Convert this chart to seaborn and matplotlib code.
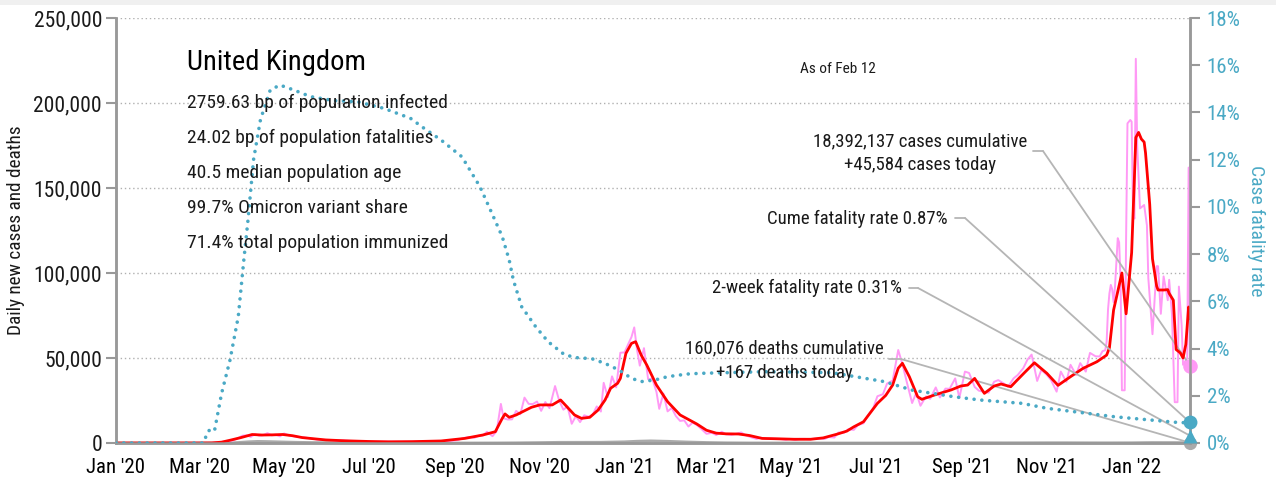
import matplotlib
matplotlib.use("Agg")
import matplotlib.pyplot as plt
import matplotlib.ticker as mticker
import matplotlib.dates as mdates
from matplotlib import font_manager as fm
from matplotlib.patches import Rectangle
import pandas as pd
import seaborn as sns

# ---------------- data ----------------
daily_dates = [
    "2020-01-01", "2020-02-29", "2020-03-05", "2020-03-10", "2020-03-14", "2020-03-18", "2020-03-21",
    "2020-03-25", "2020-03-28", "2020-04-01", "2020-04-04", "2020-04-07", "2020-04-10", "2020-04-13",
    "2020-04-16", "2020-04-19", "2020-04-22", "2020-04-25", "2020-04-28", "2020-05-01", "2020-05-05",
    "2020-05-09", "2020-05-13", "2020-05-17", "2020-05-21", "2020-05-25", "2020-05-29", "2020-06-03",
    "2020-06-08", "2020-06-13", "2020-06-18", "2020-06-23", "2020-06-28", "2020-07-04", "2020-07-11",
    "2020-07-18", "2020-07-25", "2020-08-01", "2020-08-08", "2020-08-15", "2020-08-22", "2020-08-29",
    "2020-09-03", "2020-09-07", "2020-09-11", "2020-09-15", "2020-09-18", "2020-09-21", "2020-09-24",
    "2020-09-28", "2020-10-01", "2020-10-04", "2020-10-06", "2020-10-09", "2020-10-12", "2020-10-15",
    "2020-10-18", "2020-10-21", "2020-10-24", "2020-10-27", "2020-10-30", "2020-11-02", "2020-11-05",
    "2020-11-08", "2020-11-12", "2020-11-15", "2020-11-18", "2020-11-21", "2020-11-24", "2020-11-27",
    "2020-11-30", "2020-12-03", "2020-12-06", "2020-12-09", "2020-12-12", "2020-12-15", "2020-12-17",
    "2020-12-20", "2020-12-23", "2020-12-26", "2020-12-29", "2021-01-01", "2021-01-04", "2021-01-06",
    "2021-01-08", "2021-01-10", "2021-01-12", "2021-01-15", "2021-01-18", "2021-01-21", "2021-01-24",
    "2021-01-26", "2021-01-29", "2021-02-01", "2021-02-04", "2021-02-07", "2021-02-10", "2021-02-13",
    "2021-02-16", "2021-02-19", "2021-02-22", "2021-02-25", "2021-03-01", "2021-03-05", "2021-03-08",
    "2021-03-12", "2021-03-15", "2021-03-19", "2021-03-22", "2021-03-26", "2021-03-29", "2021-04-02",
    "2021-04-06", "2021-04-09", "2021-04-13", "2021-04-16", "2021-04-20", "2021-04-23", "2021-04-27",
    "2021-04-30", "2021-05-04", "2021-05-07", "2021-05-11", "2021-05-14", "2021-05-18", "2021-05-21",
    "2021-05-25", "2021-05-28", "2021-06-01", "2021-06-04", "2021-06-08", "2021-06-11", "2021-06-15",
    "2021-06-18", "2021-06-22", "2021-06-25", "2021-06-29", "2021-07-02", "2021-07-06", "2021-07-09",
    "2021-07-13", "2021-07-17", "2021-07-20", "2021-07-23", "2021-07-27", "2021-07-30", "2021-08-02",
    "2021-08-06", "2021-08-09", "2021-08-13", "2021-08-16", "2021-08-20", "2021-08-23", "2021-08-27",
    "2021-08-30", "2021-09-03", "2021-09-06", "2021-09-10", "2021-09-13", "2021-09-17", "2021-09-20",
    "2021-09-24", "2021-09-27", "2021-10-01", "2021-10-04", "2021-10-08", "2021-10-11", "2021-10-15",
    "2021-10-18", "2021-10-21", "2021-10-25", "2021-10-28", "2021-11-01", "2021-11-04", "2021-11-08",
    "2021-11-11", "2021-11-15", "2021-11-18", "2021-11-22", "2021-11-25", "2021-11-29", "2021-12-02",
    "2021-12-06", "2021-12-09", "2021-12-11", "2021-12-13", "2021-12-14", "2021-12-15", "2021-12-16",
    "2021-12-17", "2021-12-18", "2021-12-19", "2021-12-20", "2021-12-22", "2021-12-23", "2021-12-24",
    "2021-12-25", "2021-12-27", "2021-12-28", "2021-12-29", "2021-12-31", "2022-01-01", "2022-01-02",
    "2022-01-03", "2022-01-04", "2022-01-05", "2022-01-07", "2022-01-10", "2022-01-12", "2022-01-13",
    "2022-01-16", "2022-01-19", "2022-01-20", "2022-01-22", "2022-01-24", "2022-01-27", "2022-01-28",
    "2022-01-30", "2022-02-01", "2022-02-03", "2022-02-04", "2022-02-06", "2022-02-07", "2022-02-10",
    "2022-02-11", "2022-02-12",
]
daily_cases = [
    0, 0, 30, 60, 340, 680, 1000,
    1500, 2500, 4300, 4500, 3600, 5200, 4300,
    4600, 5800, 4500, 4900, 3900, 5600, 4300,
    3800, 3400, 3100, 2600, 2000, 1800, 1800,
    1400, 1500, 1200, 1000, 900, 700, 800,
    750, 750, 800, 900, 1100, 1000, 1300,
    1700, 2900, 3500, 3100, 4300, 4400, 6600,
    4000, 7100, 23000, 14500, 13800, 13900, 18900,
    16900, 26700, 23000, 22900, 24400, 18900, 24100,
    20500, 33500, 24900, 19600, 21400, 11300, 15800,
    12300, 16300, 15500, 16500, 21500, 18500, 35400,
    27000, 39200, 32700, 53100, 53300, 58800, 62300,
    68000, 54900, 45500, 55800, 37500, 37900, 30000,
    20100, 29100, 18600, 20600, 15800, 13000, 13300,
    9700, 12000, 10600, 8500, 5400, 6000, 4700,
    6600, 5100, 4800, 5300, 6200, 4600, 3400,
    2400, 3100, 2500, 2600, 2500, 2400, 1900,
    2400, 1900, 2400, 2400, 2200, 2500, 2600,
    2400, 3500, 3200, 6200, 6000, 8100, 7700,
    10500, 11600, 16000, 20500, 27500, 28700, 35000,
    36700, 54700, 46500, 36400, 23500, 29600, 21900,
    27400, 26000, 32700, 26800, 32000, 31900, 38000,
    26500, 42000, 41200, 33000, 30800, 30000, 29600,
    36000, 37000, 35000, 33000, 38000, 40000, 44000,
    49000, 52000, 36500, 43000, 40000, 37000, 30200,
    42000, 36000, 46000, 40000, 47000, 42000, 53000,
    51000, 50900, 54000, 54600, 59600, 78600, 88000,
    93000, 90400, 82900, 91700, 120500, 118000, 96000,
    31000, 31000, 120000, 188000, 190000, 189000, 135000,
    132000, 226000, 175000, 138000, 140000, 128000, 97000,
    64000, 104000, 104000, 76000, 98000, 84000, 96000,
    76000, 24000, 24000, 92000, 69000, 46000, 50000,
    162000, 45584,
]

avg_dates = [
    "2020-01-01", "2020-03-01", "2020-03-10", "2020-03-17", "2020-03-24", "2020-03-31", "2020-04-08",
    "2020-04-15", "2020-04-23", "2020-04-30", "2020-05-07", "2020-05-14", "2020-05-21", "2020-05-31",
    "2020-06-14", "2020-07-01", "2020-07-15", "2020-08-01", "2020-08-22", "2020-09-08", "2020-09-21",
    "2020-09-30", "2020-10-05", "2020-10-07", "2020-10-10", "2020-10-15", "2020-10-26", "2020-11-01",
    "2020-11-10", "2020-11-16", "2020-11-20", "2020-11-26", "2020-12-01", "2020-12-07", "2020-12-13",
    "2020-12-18", "2020-12-22", "2020-12-27", "2020-12-29", "2021-01-02", "2021-01-06", "2021-01-09",
    "2021-01-13", "2021-01-17", "2021-01-24", "2021-02-01", "2021-02-10", "2021-02-22", "2021-03-01",
    "2021-03-08", "2021-03-15", "2021-03-24", "2021-04-01", "2021-04-10", "2021-04-20", "2021-05-03",
    "2021-05-15", "2021-05-24", "2021-06-03", "2021-06-10", "2021-06-15", "2021-06-22", "2021-07-02",
    "2021-07-08", "2021-07-13", "2021-07-17", "2021-07-20", "2021-07-25", "2021-07-31", "2021-08-03",
    "2021-08-12", "2021-08-24", "2021-08-31", "2021-09-05", "2021-09-10", "2021-09-17", "2021-09-24",
    "2021-09-29", "2021-10-06", "2021-10-10", "2021-10-16", "2021-10-23", "2021-11-01", "2021-11-09",
    "2021-11-18", "2021-11-27", "2021-12-07", "2021-12-14", "2021-12-16", "2021-12-19", "2021-12-25",
    "2021-12-28", "2022-01-01", "2022-01-03", "2022-01-04", "2022-01-06", "2022-01-08", "2022-01-10",
    "2022-01-11", "2022-01-14", "2022-01-16", "2022-01-19", "2022-01-20", "2022-01-24", "2022-01-27",
    "2022-01-28", "2022-01-31", "2022-02-02", "2022-02-05", "2022-02-07", "2022-02-09", "2022-02-11",
    "2022-02-12",
]
avg_cases = [
    0, 0, 50, 500, 1800, 3200, 5000,
    4700, 4800, 5000, 4300, 3200, 2600, 1800,
    1300, 900, 700, 800, 1200, 2700, 4700,
    6650, 14500, 17100, 15100, 16500, 21000, 22400,
    22400, 25300, 21800, 16500, 14500, 15100, 19400,
    25300, 32200, 35100, 38000, 52700, 58600, 59600,
    51700, 45900, 34100, 24300, 16500, 11200, 7500,
    5800, 5400, 5300, 4400, 2700, 2500, 2200,
    2200, 3000, 5200, 7000, 9500, 12500, 23300,
    28000, 34100, 44000, 46900, 39000, 27200, 25700,
    28200, 31200, 33500, 34100, 38000, 29200, 33500,
    34700, 33100, 36500, 41500, 47200, 41000, 33900,
    39000, 43900, 47800, 51700, 56000, 78200, 100000,
    76000, 112000, 156500, 179700, 182700, 178800, 177000,
    170600, 140500, 108300, 92300, 90000, 90000, 90200,
    88000, 84000, 55000, 53000, 50000, 58000, 80000,
    73000,
]

death_dates = [
    "2020-01-01", "2020-03-15", "2020-03-22", "2020-03-29", "2020-04-05", "2020-04-12", "2020-04-19",
    "2020-04-26", "2020-05-03", "2020-05-10", "2020-05-17", "2020-05-24", "2020-05-31", "2020-06-14",
    "2020-06-28", "2020-07-15", "2020-08-01", "2020-08-15", "2020-09-01", "2020-09-15", "2020-10-01",
    "2020-10-15", "2020-11-01", "2020-11-15", "2020-12-01", "2020-12-15", "2021-01-01", "2021-01-10",
    "2021-01-20", "2021-02-01", "2021-02-15", "2021-03-01", "2021-03-15", "2021-04-01", "2021-05-01",
    "2021-06-01", "2021-07-01", "2021-07-20", "2021-08-01", "2021-08-15", "2021-09-01", "2021-09-15",
    "2021-10-01", "2021-10-15", "2021-11-01", "2021-11-15", "2021-12-01", "2021-12-15", "2022-01-01",
    "2022-01-15", "2022-02-01", "2022-02-12",
]
daily_deaths = [
    0, 10, 50, 300, 700, 950, 850,
    700, 550, 420, 330, 250, 200, 140,
    100, 60, 40, 15, 10, 20, 50,
    110, 250, 400, 420, 430, 700, 1050,
    1250, 1000, 600, 300, 120, 40, 15,
    8, 20, 50, 80, 100, 120, 140,
    120, 130, 160, 160, 120, 110, 140,
    270, 250, 167,
]

cfr_dates = [
    "2020-01-01", "2020-03-04", "2020-03-07", "2020-03-10", "2020-03-12", "2020-03-17", "2020-03-23",
    "2020-03-29", "2020-04-02", "2020-04-05", "2020-04-09", "2020-04-14", "2020-04-21", "2020-04-28",
    "2020-05-08", "2020-05-20", "2020-06-06", "2020-06-23", "2020-07-12", "2020-07-31", "2020-08-08",
    "2020-08-22", "2020-09-06", "2020-09-19", "2020-09-27", "2020-10-05", "2020-10-10", "2020-10-13",
    "2020-10-19", "2020-10-29", "2020-11-07", "2020-11-19", "2020-11-29", "2020-12-08", "2020-12-18",
    "2020-12-28", "2021-01-06", "2021-01-13", "2021-01-23", "2021-02-01", "2021-02-15", "2021-02-24",
    "2021-04-12", "2021-05-30", "2021-07-07", "2021-07-27", "2021-08-26", "2021-09-14", "2021-10-14",
    "2021-11-01", "2021-12-20", "2022-02-05", "2022-02-12",
]
cfr_pct = [
    0.0, 0.0, 0.48, 0.62, 0.55, 2.1, 3.5,
    5.35, 7.75, 9.44, 12.0, 13.7, 14.95, 15.16,
    14.95, 14.67, 14.5, 14.45, 14.17, 13.75, 13.4,
    12.83, 12.12, 10.85, 9.8, 8.74, 7.75, 6.9,
    5.77, 4.93, 4.29, 3.73, 3.6, 3.58, 3.37,
    3.09, 2.74, 2.6, 2.67, 2.81, 2.92, 2.95,
    3.02, 2.98, 2.6, 2.24, 1.96, 1.82, 1.68,
    1.47, 1.11, 0.86, 0.87,
]

country = "United Kingdom"
stats_lines = [
    "2759.63 bp of population infected",
    "24.02 bp of population fatalities",
    "40.5 median population age",
    "99.7% Omicron variant share",
    "71.4% total population immunized",
]
as_of = "As of Feb 12"
last_date = "2022-02-12"
cases_cumulative = 18392137
cases_today = 45584
deaths_cumulative = 160076
deaths_today = 167
cume_cfr = 0.87
two_week_cfr = 0.31

# ---------------- style ----------------
PINK = "#ff99f5"
RED = "#ff0000"
TEAL = "#4aa9c5"
GREY_LINE = "#aaaaaa"
AXIS = "#999999"
LEADER = "#b5b5b5"
INK = "#1a1a1a"


def narrow_font():
    """Return (family, stretch) of a narrow sans face if one is installed."""
    entries = fm.fontManager.ttflist
    names = {f.name for f in entries}
    for fam in ("Liberation Sans Narrow", "Arial Narrow", "Roboto Condensed",
                "Noto Sans Condensed", "Open Sans Condensed", "DejaVu Sans Condensed",
                "Noto Sans Display Condensed"):
        if fam in names:
            return fam, "normal"
    for f in entries:
        stretch = str(f.stretch)
        if stretch in ("condensed", "semi-condensed") and f.style == "normal" \
                and str(f.weight) in ("400", "normal", "regular", "book"):
            return f.name, stretch
    for f in entries:
        low = f.fname.lower()
        if ("condensed" in low or "narrow" in low) and "bold" not in low \
                and "italic" not in low and "light" not in low:
            return f.name, str(f.stretch)
    return None, "normal"


sns.set_theme(style="white")
fam, stretch = narrow_font()
if fam:
    plt.rcParams["font.family"] = [fam, "DejaVu Sans"]
    plt.rcParams["font.stretch"] = stretch
    SCALE = 1.0
else:
    plt.rcParams["font.family"] = ["Roboto", "DejaVu Sans"]
    SCALE = 0.82

W, H = 1276, 482
fig = plt.figure(figsize=(W / 100, H / 100), dpi=100)
fig.patch.set_facecolor("white")
fig.patches.append(Rectangle((0, 1 - 5 / H), 1, 5 / H, transform=fig.transFigure,
                             facecolor="#f0f0f0", edgecolor="none", zorder=0))

L, R, B, T = 116, 1190, 443, 18
ax = fig.add_axes([L / W, (H - B) / H, (R - L) / W, (B - T) / H])
ax.set_facecolor("none")
ax2 = ax.twinx()


def frame(dates, values):
    return pd.DataFrame({"date": pd.to_datetime(dates), "value": values})


df_daily = frame(daily_dates, daily_cases)
df_avg = frame(avg_dates, avg_cases)
df_deaths = frame(death_dates, daily_deaths)
df_cfr = frame(cfr_dates, cfr_pct)

sns.lineplot(data=df_deaths, x="date", y="value", ax=ax, color=GREY_LINE, lw=2.0,
             estimator=None, sort=False, zorder=2)
sns.lineplot(data=df_daily, x="date", y="value", ax=ax, color=PINK, lw=1.4,
             estimator=None, sort=False, zorder=3)
sns.lineplot(data=df_avg, x="date", y="value", ax=ax, color=RED, lw=2.0,
             estimator=None, sort=False, zorder=4)
sns.lineplot(data=df_cfr, x="date", y="value", ax=ax2, color=TEAL, lw=2.6,
             linestyle=(0, (0.01, 2.15)), dash_capstyle="round",
             estimator=None, sort=False, zorder=5)

end = pd.Timestamp(last_date)
ax.scatter([end], [cases_today], s=110, color=PINK, zorder=6, clip_on=False, linewidths=0)
ax.scatter([end], [deaths_today], s=90, color=GREY_LINE, zorder=6, clip_on=False, linewidths=0)
ax2.scatter([end], [cume_cfr], s=100, color=TEAL, zorder=7, clip_on=False, linewidths=0)
ax2.scatter([end], [two_week_cfr], s=100, marker="^", color=TEAL, zorder=7, clip_on=False,
            linewidths=0)

# ---------------- axes ----------------
ax.set_xlim(pd.Timestamp("2020-01-01"), end)
ax.set_ylim(0, 250000)
ax2.set_ylim(0, 18)

ax.xaxis.set_major_locator(mdates.MonthLocator(bymonth=[1, 3, 5, 7, 9, 11]))
ax.xaxis.set_major_formatter(mdates.DateFormatter("%b '%y"))
ax.yaxis.set_major_locator(mticker.MultipleLocator(50000))
ax.yaxis.set_major_formatter(mticker.FuncFormatter(lambda v, p: f"{int(v):,}"))
ax2.yaxis.set_major_locator(mticker.MultipleLocator(2))
ax2.yaxis.set_major_formatter(mticker.FuncFormatter(lambda v, p: f"{int(round(v))}%"))

ax.set_xlabel("")
ax.set_ylabel("Daily new cases and deaths", fontsize=13.9 * SCALE, color=INK, labelpad=6)
ax2.set_ylabel("Case fatality rate", fontsize=14 * SCALE, color=TEAL, rotation=270, labelpad=18)

ax.grid(False)
ax2.grid(False)
ax.yaxis.grid(True, linestyle=(0, (1, 2)), color="#b0b0b0", lw=1.0)

for a in (ax, ax2):
    a.spines["top"].set_visible(False)
    for s in ("left", "right", "bottom"):
        a.spines[s].set_color(AXIS)
        a.spines[s].set_linewidth(1.8)

ax.tick_params(axis="x", direction="out", length=7, width=1.5, color=AXIS,
               labelsize=15 * SCALE, labelcolor="black", pad=4)
ax.tick_params(axis="y", direction="out", length=7, width=1.5, color=AXIS,
               labelsize=15.5 * SCALE, labelcolor=INK, pad=3, left=True)
ax2.tick_params(axis="y", direction="out", length=7, width=1.5, color=AXIS,
                labelsize=15 * SCALE, labelcolor=TEAL, pad=5, right=True)

# ---------------- text ----------------
def fp(x, y):
    return (x / W, 1 - y / H)


fig.text(*fp(187, 63), country, fontsize=20.5 * SCALE, va="center", ha="left", color="black")
for i, line in enumerate(stats_lines):
    fig.text(*fp(187, 103 + 35 * i), line, fontsize=14 * SCALE, va="center", ha="left", color=INK)
fig.text(*fp(838, 69), as_of, fontsize=11 * SCALE, va="center", ha="center", color=INK)

ANN = 13.5 * SCALE
fig.text(*fp(920, 141), f"{cases_cumulative:,} cases cumulative", fontsize=ANN,
         ha="center", va="center", color=INK)
fig.text(*fp(920, 165), f"+{cases_today:,} cases today", fontsize=ANN,
         ha="center", va="center", color=INK)
fig.text(*fp(948, 219), f"Cume fatality rate {cume_cfr:.2f}%", fontsize=ANN,
         ha="right", va="center", color=INK)
fig.text(*fp(902, 288), f"2-week fatality rate {two_week_cfr:.2f}%", fontsize=ANN,
         ha="right", va="center", color=INK)
fig.text(*fp(784, 348), f"{deaths_cumulative:,} deaths cumulative", fontsize=ANN,
         ha="center", va="center", color=INK)
fig.text(*fp(784, 373), f"+{deaths_today:,} deaths today", fontsize=ANN,
         ha="center", va="center", color=INK, zorder=1)


def leader(axis, y_val, start, elbow):
    sx, sy = start
    ex, ey = elbow
    fig.add_artist(plt.Line2D([sx / W, ex / W], [1 - sy / H, 1 - ey / H],
                              transform=fig.transFigure, color=LEADER, lw=1.3))
    axis.annotate("", xy=(end, y_val), xycoords="data",
                  xytext=(ex, H - ey), textcoords="figure pixels",
                  arrowprops=dict(arrowstyle="-", color=LEADER, lw=1.3,
                                  shrinkA=0, shrinkB=0), annotation_clip=False)


leader(ax, cases_today, (1033, 151), (1043, 151))
leader(ax2, cume_cfr, (955, 218), (965, 218))
leader(ax2, two_week_cfr, (909, 288), (918, 288))
leader(ax, deaths_today, (889, 359), (901, 359))

fig.savefig("out.png", dpi=100, facecolor="white")
